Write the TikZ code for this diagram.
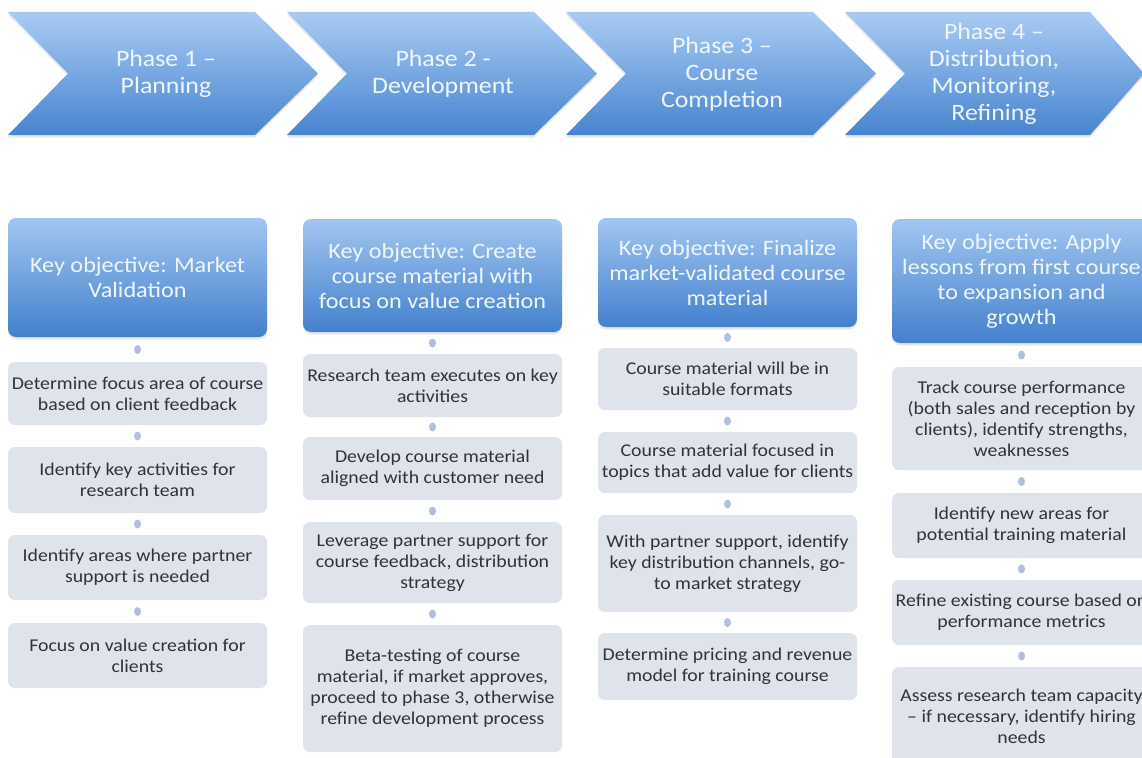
\documentclass[tikz,border=0pt]{standalone}
\usepackage{fontspec}
\setmainfont{Carlito}[FakeStretch=1.1]
\usetikzlibrary{shadows,shapes.geometric}

\definecolor{chevtop}{HTML}{A9CBF3}
\definecolor{chevbot}{HTML}{4784D0}
\definecolor{keytop}{HTML}{A2C6F1}
\definecolor{keybot}{HTML}{4380CD}
\definecolor{stepfill}{HTML}{DFE3EB}
\definecolor{steptext}{HTML}{333333}
\definecolor{headtext}{HTML}{F0F5FC}
\definecolor{dotcol}{HTML}{B0BFDC}

\tikzset{
  softshadow/.style={drop shadow={opacity=0.18, shadow xshift=0pt, shadow yshift=-2.5pt}},
  chev/.style={top color=chevtop, bottom color=chevbot, draw=none, softshadow},
  chevtext/.style={text=headtext, font=\fontsize{23.5}{27}\selectfont, align=center},
  keybox/.style={rounded corners=8pt, top color=keytop, bottom color=keybot, draw=none,
    text=headtext, font=\fontsize{22}{25}\selectfont, align=center,
    minimum width=259pt, inner sep=0pt, softshadow},
  stepbox/.style={rounded corners=7pt, fill=stepfill, draw=none, text=steptext,
    font=\fontsize{18}{21}\selectfont, align=center, minimum width=259pt, inner sep=0pt},
  dotmark/.style={ellipse, fill=dotcol, draw=none, minimum width=7pt, minimum height=9pt, inner sep=0pt}
}

\begin{document}
\begin{tikzpicture}[x=1pt, y=-1pt]
  \useasboundingbox (0,0) rectangle (1142,757);
  \fill[white] (0,0) rectangle (1142,757);
  \clip (0,0) rectangle (1142,757);

  % phase chevrons
  \foreach \i/\x in {1/8, 2/287, 3/566}{
    \path[chev] (\x,12) -- (\x+247,12) -- (\x+310,73.5) -- (\x+247,135)
      -- (\x,135) -- (\x+60,73.5) -- cycle;
  }
  \path[chev] (845,12) -- (1090,12) -- (1144,73.5) -- (1090,135)
    -- (845,135) -- (905,73.5) -- cycle;

  \node[chevtext] (ph1) at (166,74) {Phase 1 –\\Planning};
  \node[chevtext] (ph2) at (443,74) {Phase 2 -\\Development};
  \node[chevtext] (ph3) at (722,74) {Phase 3 –\\Course\\Completion};
  \node[chevtext] (ph4) at (994,74) {Phase 4 –\\Distribution,\\Monitoring,\\Refining};

  % column 1
  \node[keybox, minimum height=119pt] (a0) at (137.5,277.5) {Key objective: Market\\Validation};
  \node[stepbox, minimum height=63pt] (a1) at (137.5,393.5) {Determine focus area of course\\based on client feedback};
  \node[stepbox, minimum height=66pt] (a2) at (137.5,480) {Identify key activities for\\research team};
  \node[stepbox, minimum height=65pt] (a3) at (137.5,567.5) {Identify areas where partner\\support is needed};
  \node[stepbox, minimum height=65pt] (a4) at (137.5,655.5) {Focus on value creation for\\clients};

  % column 2
  \node[keybox, minimum height=113pt] (b0) at (432.5,275.5) {Key objective: Create\\course material with\\focus on value creation};
  \node[stepbox, minimum height=63pt] (b1) at (432.5,385.5) {Research team executes on key\\activities};
  \node[stepbox, minimum height=63pt] (b2) at (432.5,468.5) {Develop course material\\aligned with customer need};
  \node[stepbox, minimum height=81pt] (b3) at (432.5,562.5) {Leverage partner support for\\course feedback, distribution\\strategy};
  \node[stepbox, minimum height=127pt] (b4) at (432.5,688.5) {Beta-testing of course\\material, if market approves,\\proceed to phase 3, otherwise\\refine development process};

  % column 3
  \node[keybox, minimum height=109pt] (c0) at (727.5,272.5) {Key objective: Finalize\\market-validated course\\material};
  \node[stepbox, minimum height=62pt] (c1) at (727.5,379) {Course material will be in\\suitable formats};
  \node[stepbox, minimum height=61pt] (c2) at (727.5,462.5) {Course material focused in\\topics that add value for clients};
  \node[stepbox, minimum height=97pt] (c3) at (727.5,563.5) {With partner support, identify\\key distribution channels, go-\\to market strategy};
  \node[stepbox, minimum height=67pt] (c4) at (727.5,666.5) {Determine pricing and revenue\\model for training course};

  % column 4
  \node[keybox, minimum height=124pt] (d0) at (1021.5,281) {Key objective: Apply\\lessons from first course\\to expansion and\\growth};
  \node[stepbox, minimum height=103pt] (d1) at (1021.5,418.5) {Track course performance\\(both sales and reception by\\clients), identify strengths,\\weaknesses};
  \node[stepbox, minimum height=65pt] (d2) at (1021.5,525.5) {Identify new areas for\\potential training material};
  \node[stepbox, minimum height=65pt] (d3) at (1021.5,612.5) {Refine existing course based on\\performance metrics};
  \node[stepbox, minimum height=98pt] (d4) at (1021.5,716) {Assess research team capacity\\– if necessary, identify hiring\\needs};

  % small link marks between consecutive boxes
  \foreach \c in {a,b,c,d}{
    \foreach \j [count=\k from 1] in {0,1,2,3}{
      \path (\c\j) -- node[dotmark] {} (\c\k);
    }
  }
\end{tikzpicture}
\end{document}
